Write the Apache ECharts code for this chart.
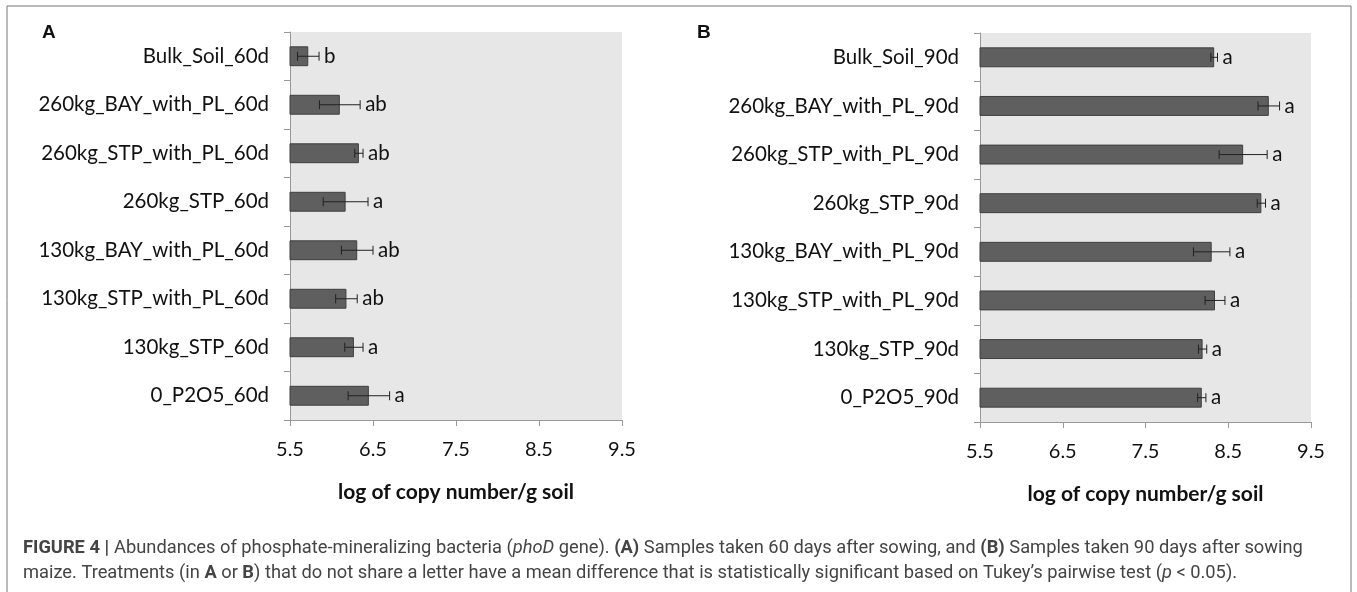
<!DOCTYPE html>
<html><head><meta charset="utf-8">
<script src="https://cdn.jsdelivr.net/npm/echarts@6/dist/echarts.min.js"></script>
<style>html,body{margin:0;padding:0;background:#fff}#c{width:1357px;height:592px}</style>
</head><body><div id="c"></div>
<script>
var catsA = ['Bulk_Soil_60d','260kg_BAY_with_PL_60d','260kg_STP_with_PL_60d','260kg_STP_60d','130kg_BAY_with_PL_60d','130kg_STP_with_PL_60d','130kg_STP_60d','0_P2O5_60d'];
var valsA = [5.72, 6.10, 6.33, 6.17, 6.31, 6.18, 6.27, 6.45];
var errA = [0.13, 0.245, 0.05, 0.27, 0.19, 0.13, 0.11, 0.25];
var lettersA = ['b','ab','ab','a','ab','ab','a','a'];

var catsB = ['Bulk_Soil_90d','260kg_BAY_with_PL_90d','260kg_STP_with_PL_90d','260kg_STP_90d','130kg_BAY_with_PL_90d','130kg_STP_with_PL_90d','130kg_STP_90d','0_P2O5_90d'];
var valsB = [8.33, 8.99, 8.68, 8.90, 8.30, 8.34, 8.19, 8.18];
var errB = [0.04, 0.13, 0.29, 0.05, 0.22, 0.12, 0.05, 0.05];
var lettersB = ['a','a','a','a','a','a','a','a'];

var xTicks = [5.5, 6.5, 7.5, 8.5, 9.5];
var axisTitle = 'log of copy number/g soil';

var FONT = 'Lato';
var CAP = 'Roboto';
var chart = echarts.init(document.getElementById('c'));

function errData(vals, errs, letters) {
  return vals.map(function (v, i) { return [v - errs[i], v + errs[i], i, letters[i]]; });
}
function errRender(params, api) {
  var lo = api.coord([api.value(0), api.value(2)]);
  var hi = api.coord([api.value(1), api.value(2)]);
  var y = lo[1];
  var cap = 4.5;
  var st = { stroke: '#222', lineWidth: 1 };
  return {
    type: 'group',
    children: [
      { type: 'line', shape: { x1: lo[0], y1: y, x2: hi[0], y2: y }, style: st },
      { type: 'line', shape: { x1: lo[0], y1: y - cap, x2: lo[0], y2: y + cap }, style: st },
      { type: 'line', shape: { x1: hi[0], y1: y - cap, x2: hi[0], y2: y + cap }, style: st },
      { type: 'text', x: hi[0] + 5, y: y, style: { text: api.value(3), fill: '#111', font: '20.5px ' + FONT, textVerticalAlign: 'middle', textAlign: 'left' } }
    ]
  };
}

function xAxisCfg(gi) {
  return {
    gridIndex: gi, type: 'value', min: xTicks[0], max: xTicks[xTicks.length - 1], interval: 1,
    axisLine: { show: true, lineStyle: { color: '#999' } },
    axisTick: { show: true, length: 6, lineStyle: { color: '#999' } },
    splitLine: { show: false },
    axisLabel: { color: '#111', fontFamily: FONT, fontSize: 20, margin: 20, formatter: function (v) { return v.toFixed(1); } },
    name: axisTitle, nameLocation: 'middle', nameGap: 62,
    nameTextStyle: { color: '#111', fontFamily: FONT, fontWeight: 'bold', fontSize: 21 }
  };
}
function yAxisCfg(gi, cats) {
  return {
    gridIndex: gi, type: 'category', data: cats, inverse: true,
    axisLine: { show: true, lineStyle: { color: '#999' } },
    axisTick: { show: true, length: 6, lineStyle: { color: '#999' } },
    axisLabel: { color: '#111', fontFamily: FONT, fontSize: 20.5, margin: 21 }
  };
}

chart.setOption({
  animation: false,
  grid: [
    { left: 290, width: 332, top: 32, height: 388, show: true, backgroundColor: '#e7e7e7', borderWidth: 0 },
    { left: 980, width: 331, top: 33, height: 389, show: true, backgroundColor: '#e7e7e7', borderWidth: 0 }
  ],
  xAxis: [xAxisCfg(0), xAxisCfg(1)],
  yAxis: [yAxisCfg(0, catsA), yAxisCfg(1, catsB)],
  title: [
    { text: 'A', left: 42, top: 23, padding: 0, textStyle: { fontFamily: 'Liberation Sans', fontWeight: 'bold', fontSize: 19, color: '#111' } },
    { text: 'B', left: 697, top: 23, padding: 0, textStyle: { fontFamily: 'Liberation Sans', fontWeight: 'bold', fontSize: 19, color: '#111' } },
    {
      left: 23, top: 536, padding: 0,
      text: '{b|FIGURE 4 |} {n|Abundances of phosphate-mineralizing bacteria (}{i|phoD}{n| gene). }{b|(A)}{n| Samples taken 60 days after sowing, and }{b|(B)}{n| Samples taken 90 days after sowing}\n{n|maize. Treatments (in }{b|A}{n| or }{b|B}{n|) that do not share a letter have a mean difference that is statistically significant based on Tukey\u2019s pairwise test (}{i|p}{n| < 0.05).}',
      textStyle: {
        fontWeight: 'normal', lineHeight: 25,
        rich: {
          n: { fontFamily: CAP, fontSize: 18.3, fontWeight: 'normal', color: '#444', lineHeight: 25 },
          b: { fontFamily: CAP, fontSize: 18.3, fontWeight: 'bold', color: '#444', lineHeight: 25 },
          i: { fontFamily: CAP, fontSize: 18.3, fontWeight: 'normal', fontStyle: 'italic', color: '#444', lineHeight: 25 }
        }
      }
    }
  ],
  graphic: [
    { type: 'rect', shape: { x: 7, y: 6, width: 1344, height: 600 }, style: { fill: 'none', stroke: '#777', lineWidth: 1 }, silent: true }
  ],
  series: [
    { type: 'bar', xAxisIndex: 0, yAxisIndex: 0, data: valsA, barWidth: '41%', itemStyle: { color: '#5f5f5f', borderColor: '#3f3f3f', borderWidth: 1 } },
    { type: 'custom', xAxisIndex: 0, yAxisIndex: 0, data: errData(valsA, errA, lettersA), renderItem: errRender, z: 5 },
    { type: 'bar', xAxisIndex: 1, yAxisIndex: 1, data: valsB, barWidth: '41%', itemStyle: { color: '#5f5f5f', borderColor: '#3f3f3f', borderWidth: 1 } },
    { type: 'custom', xAxisIndex: 1, yAxisIndex: 1, data: errData(valsB, errB, lettersB), renderItem: errRender, z: 5 }
  ]
});
</script></body></html>
